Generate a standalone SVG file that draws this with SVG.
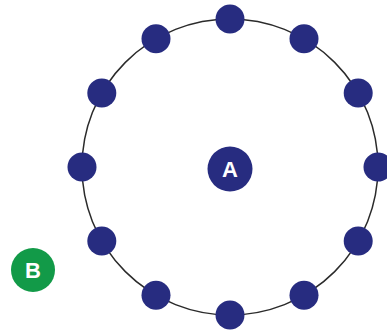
<svg xmlns="http://www.w3.org/2000/svg" width="387" height="331" viewBox="0 0 387 331">
<style>
.n{fill:#272c80}
.ring{fill:none;stroke:#2b2b2b;stroke-width:1.5}
.lbl{fill:#fff;font-family:"Liberation Sans",Arial,sans-serif;font-weight:bold;font-size:22px;text-anchor:middle}
</style>
<rect width="387" height="331" fill="#fff"/>
<g id="connectors">
<circle class="ring" cx="230" cy="167" r="148"/>
</g>
<g id="ring-nodes">
<circle id="n0" class="n" cx="230" cy="19" r="14.5"/>
<circle id="n1" class="n" cx="304" cy="38.8" r="14.5"/>
<circle id="n2" class="n" cx="358.2" cy="93" r="14.5"/>
<circle id="n3" class="n" cx="378" cy="167" r="14.5"/>
<circle id="n4" class="n" cx="358.2" cy="241" r="14.5"/>
<circle id="n5" class="n" cx="304" cy="295.2" r="14.5"/>
<circle id="n6" class="n" cx="230" cy="315" r="14.5"/>
<circle id="n7" class="n" cx="156" cy="295.2" r="14.5"/>
<circle id="n8" class="n" cx="101.8" cy="241" r="14.5"/>
<circle id="n9" class="n" cx="82" cy="167" r="14.5"/>
<circle id="n10" class="n" cx="101.8" cy="93" r="14.5"/>
<circle id="n11" class="n" cx="156" cy="38.8" r="14.5"/>
</g>
<g id="A">
<circle class="n" cx="230" cy="169" r="22.5"/>
<text class="lbl" x="230" y="177">A</text>
</g>
<g id="B">
<circle cx="33" cy="270" r="22" fill="#129a48"/>
<text class="lbl" x="33" y="278">B</text>
</g>
</svg>
